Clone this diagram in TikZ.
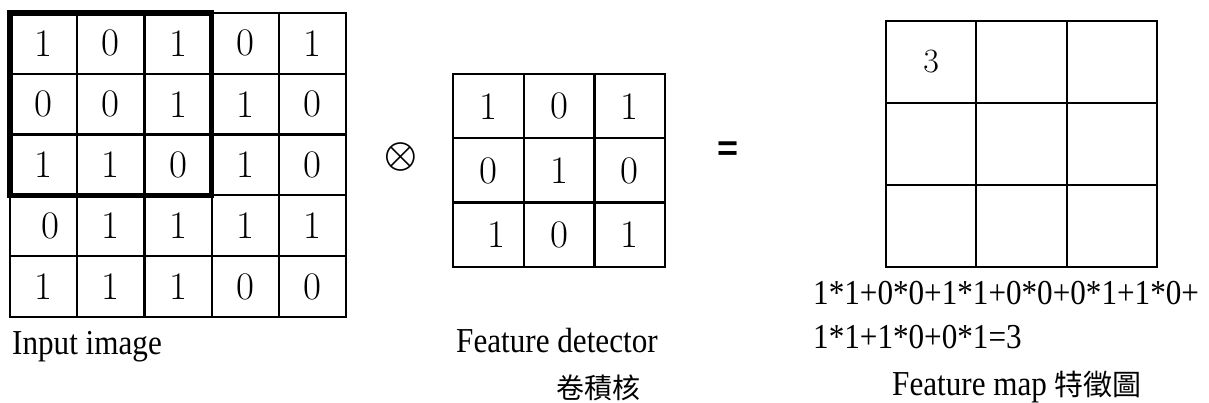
\documentclass[tikz,border=0pt]{standalone}
\usepackage{fontspec}
\newfontfamily\tnr[FakeStretch=0.89]{Liberation Serif}
\newfontfamily\cjk{Noto Sans CJK TC}
\newfontfamily\msym{latinmodern-math.otf}
\newfontfamily\asans{Liberation Sans}
\begin{document}
\begin{tikzpicture}[x=1pt,y=-1pt,
  gridcell/.style={draw, line width=2.2pt, outer sep=0pt, inner sep=0pt,
    font=\fontsize{39}{39}\selectfont},
  incell/.style={gridcell, minimum width=67.2pt, minimum height=60.8pt},
  kcell/.style={gridcell, minimum width=70.7pt, minimum height=64.3pt},
  fcell/.style={gridcell, minimum width=90.33pt, minimum height=82pt},
  label/.style={anchor=base west, inner sep=0pt,
    font=\fontsize{35}{40}\selectfont\tnr},
  cjklabel/.style={inner sep=0pt, font=\fontsize{28}{30}\selectfont\cjk},
  window/.style={draw, line width=5.5pt, line cap=rect}
]
\useasboundingbox (0,0) rectangle (1209,403);

% input image, 5x5
\foreach \row [count=\r] in {{1,0,1,0,1},{0,0,1,1,0},{1,1,0,1,0},{{\hspace*{14pt}0},1,1,1,1},{1,1,1,0,0}} {
  \foreach \v [count=\c] in \row {
    \node[incell] (in\r\c) at ({10+67.2*(\c-0.5)}, {13+60.8*(\r-0.5)}) {\v};
  }
}
% 3x3 receptive window on the input
\draw[window] (in11.north west) rectangle (in33.south east);

% convolution operator
\node[inner sep=0pt, font=\fontsize{42}{42}\selectfont\msym] (op) at (401,157) {⊗};

% feature detector (kernel), 3x3
\foreach \row [count=\r] in {{1,0,1},{0,1,0},{{\hspace*{16pt}1},0,1}} {
  \foreach \v [count=\c] in \row {
    \node[kcell] (k\r\c) at ({453+70.7*(\c-0.5)}, {74+64.3*(\r-0.5)}) {\v};
  }
}

% equals sign
\node[anchor=base, inner sep=0pt, font=\fontsize{36}{36}\selectfont\asans\bfseries] (eq) at (728,161) {=};

% feature map, 3x3
\foreach \r in {1,2,3} {
  \foreach \c in {1,2,3} {
    \node[fcell] (f\r\c) at ({886+90.33*(\c-0.5)}, {21+82*(\r-0.5)}) {};
  }
}
\node[inner sep=0pt, font=\fontsize{34}{34}\selectfont] (fval) at (f11.center) {3};

% captions
\node[label] (incap) at (12,354) {Input image};
\node[label] (kcap) at (456,352) {Feature detector};
\node[cjklabel] (kcapzh) at (598,388) {卷積核};
\node[label] (sum1) at (813,304) {1*1+0*0+1*1+0*0+0*1+1*0+};
\node[label] (sum2) at (813,348) {1*1+1*0+0*1=3};
\node[label] (fcap) at (892,395) {Feature map {\cjk\fontsize{29}{30}\selectfont 特徵圖}};
\end{tikzpicture}
\end{document}
